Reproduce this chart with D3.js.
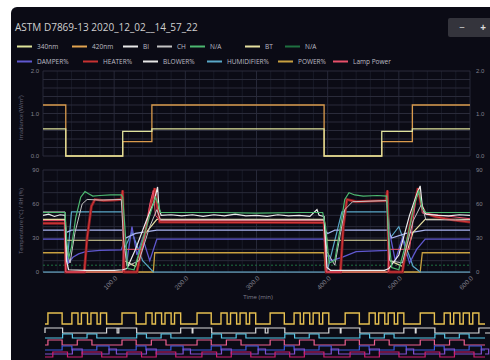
<!DOCTYPE html>
<html>
<head>
<meta charset="utf-8">
<script src="https://cdn.jsdelivr.net/npm/d3@7"></script>
<style>
body { margin: 0; background: #fff; }
svg { display: block; font-family: "Open Sans", "DejaVu Sans", sans-serif; }
</style>
</head>
<body>
<svg width="490" height="360"></svg>
<script>
// Titel & Legende
var title = "ASTM D7869-13 2020_12_02__14_57_22";
var legendRow1 = ["340nm", "420nm", "BI", "CH", "N/A", "BT", "N/A"];
var legendRow2 = ["DAMPER%", "HEATER%", "BLOWER%", "HUMIDIFIER%", "POWER%", "Lamp Power"];
var xTicks = [100, 200, 300, 400, 500, 600];
var topTicks = [0, 1, 2];
var midTicks = [0, 30, 60, 90];

// Bestrahlung (oberer Plot), Zeit in min
var tLamp = [0, 32, 112, 153, 395, 476, 519, 600];
var v340 = [0.64, 0, 0.58, 0.64, 0, 0.58, 0.64, 0.64];
var v420 = [1.2, 0, 0.34, 1.2, 0, 0.34, 1.2, 1.2];

// mittlerer Plot: [min, Wert]
var naGreen = [[0,52.5],[31,52.5],[33,30],[36,12],[40,22],[46,48],[53,66],[59,71],[64,69],[70,67],[80,67.5],[95,68],[110,68],[112,66],[115,40],[119,3],[128,2],[140,28],[150,50],[158,66],[162,60],[165,52.5],[250,52.5],[300,52],[360,52.5],[393,52.5],[397,40],[402,8],[410,10],[418,40],[424,64],[430,70],[438,68],[450,67],[470,67.5],[483,67],[486,30],[490,4],[500,2],[512,30],[522,60],[528,72],[533,56],[538,52.5],[600,52.5]];
var biWhite = [[0,50],[8,51],[16,49],[24,50.5],[31,50],[33,10],[36,2],[60,1.5],[100,1.5],[112,2],[118,3],[130,20],[145,45],[156,62],[161,75],[163,56],[166,50],[180,50.5],[195,49.5],[210,50.5],[225,49],[240,50.5],[255,49.5],[270,51],[285,49.5],[300,50],[315,49],[330,50.5],[345,49.5],[360,50],[375,49],[385,55],[388,50],[395,49],[399,4],[404,1.5],[480,1.5],[486,3],[500,15],[515,50],[526,70],[530,76],[533,58],[538,51],[555,50],[570,49.5],[585,50.5],[600,50]];
var chGray = [[0,53],[31,53],[33,20],[38,8],[45,35],[55,60],[62,64],[80,63.5],[110,64],[113,30],[118,5],[135,10],[150,40],[160,55],[165,46],[395,46],[399,18],[410,6],[424,55],[435,62],[483,63],[487,10],[505,8],[520,45],[532,60],[538,46],[600,46]];
var heater = [[0,43],[31,43],[32,0],[58,0],[62,30],[68,58],[73,64],[85,63],[100,63.5],[110,64],[112,72],[114,0],[132,0],[140,25],[150,55],[157,74],[160,60],[164,44],[395,43.5],[398,0],[418,0],[422,40],[427,64],[440,62],[460,62.5],[482,63],[484,72],[486,0],[505,0],[515,40],[527,74],[531,60],[537,52],[550,49],[565,47],[580,45.5],[600,44]];
var lampPower = [[0,45.5],[31,45.5],[32,0],[112,0],[113,20],[140,20],[150,60],[155,72],[158,50],[164,45.5],[395,45.5],[398,0],[485,0],[486,20],[515,20],[524,65],[529,70],[533,52],[600,47]];
var blower = [[0,37],[31,37],[33,35],[40,37],[112,37],[116,30],[130,34],[160,37],[395,37],[400,34],[410,37],[485,37],[490,30],[510,34],[537,37],[600,37]];
var humid = [[0,0],[31,0],[33,0],[40,53],[112,53],[114,20],[125,35],[140,10],[155,0],[395,0],[399,0],[420,53],[485,53],[488,30],[500,40],[520,5],[530,0],[600,0]];
var damper = [[0,29],[31,29],[33,20],[36,8],[42,13],[50,16],[60,18],[80,19],[110,19.5],[113,25],[118,10],[125,40],[132,15],[140,30],[150,10],[160,29],[395,29],[399,15],[405,10],[420,13],[440,18],[484,19],[487,35],[495,10],[505,30],[515,8],[525,20],[537,29],[600,29]];
var btCream = [[0,46.5],[31,46.5],[33,28],[112,28],[114,10],[130,5],[145,35],[160,46.5],[395,46.5],[399,28],[485,28],[487,10],[505,5],[520,35],[537,46.5],[600,46.5]];
var power = [[0,17],[31,17],[32,0],[155,0],[157,17],[395,17],[397,0],[530,0],[533,17],[600,17]];
var naDark = [[0,6],[600,6]];

// unterer Streifen: Zyklusbeginn (min) und Pulse im Zyklus
var cycleStarts = [12, 315, 622, 921, 1228, 1535];
var yellowPulses = [[0,58],[98,123],[137,162],[176,201],[215,240]];
var rowPulses = [
  [[-20,60],[240,290]],
  [[60,100],[160,200]],
  [[0,58],[120,180]],
  [[58,98],[200,250]],
  [[20,80],[140,220]],
  [[100,140],[250,280]]
];

var svg = d3.select('svg');

svg.append('rect')
  .attr('x', 11).attr('y', 7).attr('width', 500).attr('height', 380).attr('rx', 6)
  .attr('fill', '#0b0b15');

svg.append('text').text(title)
  .attr('x', 15).attr('y', 31)
  .attr('font-size', 10).attr('fill', '#d0d0d0');

// Knoepfe oben rechts
svg.append('rect').attr('x', 448).attr('y', 18).attr('width', 50).attr('height', 19).attr('rx', 2).attr('fill', '#34343c');
svg.append('text').text('\u2212').attr('x', 462).attr('y', 31).attr('font-size', 10).attr('fill', '#ddd').attr('text-anchor', 'middle');
svg.append('text').text('+').attr('x', 483).attr('y', 31).attr('font-size', 10).attr('fill', '#ddd').attr('text-anchor', 'middle').attr('font-weight', 'bold');

var col1 = ['#dfe49a', '#e3a450', '#e8e8e8', '#c4c4c4', '#4db870', '#e6e0a0', '#1f7040'];
var col2 = ['#6058d0', '#c83232', '#e6e6e6', '#5aa8c8', '#c8a040', '#e8506a'];
var pos1 = [17, 72, 123, 157, 190, 245, 285];
var pos2 = [17, 83, 143, 207, 278, 333];

function legendRow(names, colors, xs, y) {
  names.forEach(function(n, i) {
    svg.append('line').attr('x1', xs[i]).attr('x2', xs[i] + 15).attr('y1', y).attr('y2', y)
      .attr('stroke', colors[i]).attr('stroke-width', 2);
    svg.append('text').text(n).attr('x', xs[i] + 20).attr('y', y + 2.3)
      .attr('font-size', 6.5).attr('fill', '#bdbdc4');
  });
}
legendRow(legendRow1, col1, pos1, 46.5);
legendRow(legendRow2, col2, pos2, 61.5);

// Skalen
var xScale = d3.scaleLinear().domain([0, 600]).range([43, 470]);
var yTop = d3.scaleLinear().domain([0, 2]).range([156, 71]);
var yMid = d3.scaleLinear().domain([0, 90]).range([272, 170]);

function grid(yScale, step, maxV) {
  var g = svg.append('g');
  g.selectAll('.v').data(d3.range(0, 601, 20)).enter().append('line')
    .attr('x1', d => xScale(d)).attr('x2', d => xScale(d))
    .attr('y1', yScale(maxV)).attr('y2', yScale(0))
    .attr('stroke', d => d % 100 == 0 ? '#262838' : '#181a27').attr('stroke-width', 1);
  g.selectAll('.h').data(d3.range(0, maxV + step / 2, step)).enter().append('line')
    .attr('x1', 43).attr('x2', 470)
    .attr('y1', d => yScale(d)).attr('y2', d => yScale(d))
    .attr('stroke', '#2a2b3a').attr('stroke-width', 1);
}
grid(yTop, 0.2, 2);
grid(yMid, 10, 90);

function yAxes(yScale, ticks) {
  var l = svg.append('g').attr('transform', 'translate(43,0)')
    .call(d3.axisLeft(yScale).tickValues(ticks).tickSize(0).tickPadding(4));
  var r = svg.append('g').attr('transform', 'translate(472,0)')
    .call(d3.axisRight(yScale).tickValues(ticks).tickSize(0).tickPadding(4));
  [l, r].forEach(function(a) {
    a.select('.domain').remove();
    a.selectAll('text').attr('fill', '#80808c').attr('font-size', 6);
  });
}
yAxes(yTop, topTicks);
yAxes(yMid, midTicks);

svg.append('text').text('Irradiance (W/m\u00b2)')
  .attr('transform', 'translate(23,' + yTop(0.9) + ') rotate(-90)')
  .attr('text-anchor', 'middle').attr('font-size', 5.5).attr('fill', '#66667a');
svg.append('text').text('Temperature (\u00b0C) / RH (%)')
  .attr('transform', 'translate(23,' + yMid(45) + ') rotate(-90)')
  .attr('text-anchor', 'middle').attr('font-size', 5.5).attr('fill', '#66667a');

// x-Achse mittlerer Plot
var xAxisGroup = svg.append('g').attr('transform', 'translate(0,272)')
  .call(d3.axisBottom(xScale).tickValues(xTicks).tickSize(0).tickFormat(d3.format('.1f')));
xAxisGroup.select('.domain').attr('stroke', '#4a4a58');
xAxisGroup.selectAll('text')
  .attr('font-size', 6.5).attr('fill', '#80808c')
  .attr('text-anchor', 'end')
  .attr('transform', 'rotate(-45)')
  .attr('dx', '-0.4em').attr('dy', '0.6em');
svg.append('text').text('Time (min)')
  .attr('x', 258).attr('y', 299).attr('text-anchor', 'middle')
  .attr('font-size', 6).attr('fill', '#80808c');

// Linien oben
var stepLine = d3.line().x(d => xScale(d[0])).y(d => yTop(d[1])).curve(d3.curveStepAfter);
svg.append('path').datum(tLamp.map((t, i) => [t, v420[i]]))
  .attr('d', stepLine).attr('fill', 'none').attr('stroke', '#d99a4c').attr('stroke-width', 1.3);
svg.append('path').datum(tLamp.map((t, i) => [t, v340[i]]))
  .attr('d', stepLine).attr('fill', 'none').attr('stroke', '#e0e29c').attr('stroke-width', 1.3);

// Linien Mitte
var midLine = d3.line().x(d => xScale(d[0])).y(d => yMid(d[1]));
var midSeries = [
  {d: naDark, c: '#1f7040', w: 1, dash: '2,2'},
  {d: power, c: '#c8a040', w: 1.3},
  {d: humid, c: '#5aa8c8', w: 1.2},
  {d: damper, c: '#6058d0', w: 1.3},
  {d: blower, c: '#aab4f0', w: 1.3},
  {d: btCream, c: '#e6e0a0', w: 1.2},
  {d: heater, c: '#8e1e24', w: 2.8},
  {d: heater, c: '#d83a3a', w: 1},
  {d: lampPower, c: '#e8506a', w: 1},
  {d: chGray, c: '#c4c4c4', w: 1},
  {d: biWhite, c: '#ececec', w: 1.2},
  {d: naGreen, c: '#4db870', w: 1.2}
];
midSeries.forEach(function(s) {
  svg.append('path').datum(s.d).attr('d', midLine)
    .attr('fill', 'none').attr('stroke', s.c).attr('stroke-width', s.w)
    .attr('stroke-dasharray', s.dash || null);
});

// unterer Streifen
var xB = d3.scaleLinear().domain([0, 1800]).range([45, 485]);
function pulsePoints(pulses) {
  var pts = [[0, 0]];
  cycleStarts.forEach(function(c) {
    pulses.forEach(function(p) {
      var a = Math.max(0, c + p[0]), b = c + p[1];
      pts.push([a, 0], [a, 1], [b, 1], [b, 0]);
    });
  });
  pts.push([1800, 0]);
  return pts;
}
var rowDefs = [
  {c: '#e6c050', lo: 324, hi: 313, p: yellowPulses, w: 1.4},
  {c: '#dcdcdc', lo: 333, hi: 328, p: rowPulses[0], w: 1.2},
  {c: '#58c8e8', lo: 338, hi: 334, p: rowPulses[1], w: 1.2},
  {c: '#f06090', lo: 345, hi: 340, p: rowPulses[2], w: 1.2},
  {c: '#3c5ce0', lo: 350, hi: 346, p: rowPulses[3], w: 1.2},
  {c: '#8050d0', lo: 354, hi: 349, p: rowPulses[5], w: 1.2},
  {c: '#d02070', lo: 357, hi: 352, p: rowPulses[4], w: 1.2}
];
rowDefs.forEach(function(r) {
  var yS = d3.scaleLinear().domain([0, 1]).range([r.lo, r.hi]);
  var line = d3.line().x(d => xB(d[0])).y(d => yS(d[1]));
  svg.append('path').datum(pulsePoints(r.p)).attr('d', line)
    .attr('fill', 'none').attr('stroke', r.c).attr('stroke-width', r.w);
});
</script>
</body>
</html>
